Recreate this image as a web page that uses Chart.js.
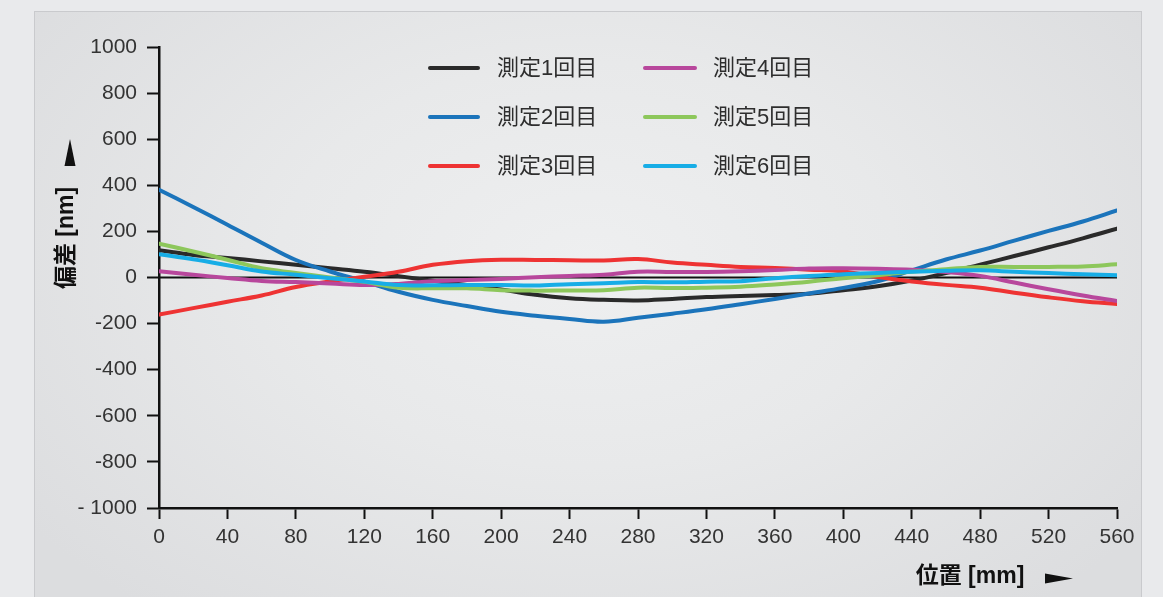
<!DOCTYPE html>
<html>
<head>
<meta charset="utf-8">
<script src="https://cdn.jsdelivr.net/npm/chart.js@4.4.1/dist/chart.umd.min.js"></script>
<style>
  html, body { margin: 0; padding: 0; width: 1163px; height: 597px; overflow: hidden; background: #e9eaec; }
  #panel {
    position: absolute; left: 34px; top: 11px; width: 1106px; height: 600px;
    border: 1px solid #c9cacd;
    background: radial-gradient(ellipse 62% 75% at 50% 42%, #eeeff0 0%, #e8e9ea 45%, #dcdddf 100%);
  }
  #wrap { position: absolute; left: 0; top: 0; width: 1163px; height: 597px; }
</style>
</head>
<body>
<div id="panel"></div>
<div id="wrap"><canvas id="c" width="1163" height="597"></canvas></div>
<script>
// Measurement positions along the axis [mm]
const positions = [0, 20, 40, 60, 80, 100, 120, 140, 160, 180, 200, 220, 240, 260, 280,
                   300, 320, 340, 360, 380, 400, 420, 440, 460, 480, 500, 520, 540, 560];

// Deviation per run [nm]
const run1 = [118, 98, 85, 70, 55, 40, 25, 6, -14, -33, -52, -75, -90, -97, -100,
              -93, -85, -80, -76, -70, -55, -38, -13, 19, 56, 93, 131, 170, 212];
const run2 = [381, 306, 229, 151, 76, 26, -17, -62, -97, -124, -149, -166, -180, -192, -175,
              -157, -138, -116, -93, -69, -45, -16, 31, 78, 117, 160, 202, 243, 291];
const run3 = [-161, -133, -105, -78, -41, -17, 3, 25, 55, 71, 77, 76, 75, 74, 80,
              65, 55, 46, 41, 34, 26, 2, -17, -32, -44, -66, -86, -103, -115];
const run4 = [27, 12, -2, -15, -20, -26, -33, -28, -16, -11, -6, 1, 7, 12, 25,
              24, 24, 27, 32, 39, 40, 38, 34, 24, 7, -22, -51, -78, -102];
const run5 = [147, 113, 77, 40, 20, 0, -19, -44, -47, -47, -55, -57, -56, -55, -44,
              -46, -44, -40, -30, -18, -3, 10, 25, 36, 46, 46, 46, 48, 57];
const run6 = [101, 79, 53, 26, 12, -3, -17, -33, -34, -33, -33, -35, -29, -25, -20,
              -21, -18, -16, -3, 7, 14, 20, 25, 29, 31, 25, 19, 14, 10];

const seriesNames = ['測定1回目', '測定2回目', '測定3回目', '測定4回目', '測定5回目', '測定6回目'];
const seriesColors = ['#2a2a2a', '#1b74bb', '#ee3333', '#b8479c', '#8dc75b', '#17ade6'];
const seriesValues = [run1, run2, run3, run4, run5, run6];

// Axis tick values
const xTicks = [0, 40, 80, 120, 160, 200, 240, 280, 320, 360, 400, 440, 480, 520, 560];
const yTicks = [-1000, -800, -600, -400, -200, 0, 200, 400, 600, 800, 1000];

const FONT = '"Liberation Sans", "Noto Sans CJK JP", sans-serif';

const datasets = seriesValues.map((vals, i) => ({
  label: seriesNames[i],
  data: vals.map((v, k) => ({ x: positions[k], y: v })),
  borderColor: seriesColors[i],
  backgroundColor: seriesColors[i],
  order: -i
}));

// Legend in two columns, three rows
const legendGrid = {
  id: 'legendGrid',
  afterDraw(chart) {
    const ctx = chart.ctx;
    const cols = [{ x0: 430, x1: 478, tx: 497 }, { x0: 645, x1: 695, tx: 713 }];
    const rows = [68, 117, 166];
    ctx.save();
    ctx.font = '22px ' + FONT;
    ctx.textBaseline = 'middle';
    ctx.textAlign = 'left';
    chart.data.datasets.forEach((ds, i) => {
      const c = cols[Math.floor(i / 3)];
      const y = rows[i % 3];
      ctx.strokeStyle = ds.borderColor;
      ctx.lineWidth = 4;
      ctx.lineCap = 'round';
      ctx.beginPath();
      ctx.moveTo(c.x0, y);
      ctx.lineTo(c.x1, y);
      ctx.stroke();
      ctx.fillStyle = '#2e2e2e';
      ctx.fillText(ds.label, c.tx, y + 1);
    });
    ctx.restore();
  }
};

// Zero reference line across the plot
const zeroLine = {
  id: 'zeroLine',
  beforeDatasetsDraw(chart) {
    const { ctx, chartArea, scales } = chart;
    const y = scales.y.getPixelForValue(0);
    ctx.save();
    ctx.strokeStyle = '#111';
    ctx.lineWidth = 1.8;
    ctx.beginPath();
    ctx.moveTo(chartArea.left, y);
    ctx.lineTo(chartArea.right, y);
    ctx.stroke();
    ctx.restore();
  }
};

// Axis titles with direction arrows
const axisTitles = {
  id: 'axisTitles',
  afterDraw(chart) {
    const ctx = chart.ctx;
    ctx.save();
    ctx.fillStyle = '#111';
    ctx.font = 'bold 23px ' + FONT;
    ctx.textAlign = 'center';
    ctx.textBaseline = 'middle';
    ctx.fillText('位置 [mm]', 970, 577);
    ctx.beginPath();
    ctx.moveTo(1045, 573.5);
    ctx.lineTo(1073, 578.5);
    ctx.lineTo(1045, 583.5);
    ctx.closePath();
    ctx.fill();

    ctx.save();
    ctx.translate(67, 238);
    ctx.rotate(-Math.PI / 2);
    ctx.fillText('偏差 [nm]', 0, 0);
    ctx.restore();
    ctx.beginPath();
    ctx.moveTo(64.5, 166);
    ctx.lineTo(70, 139);
    ctx.lineTo(75.5, 166);
    ctx.closePath();
    ctx.fill();
    ctx.restore();
  }
};

new Chart(document.getElementById('c'), {
  type: 'line',
  data: { datasets },
  plugins: [zeroLine, legendGrid, axisTitles],
  options: {
    responsive: false,
    animation: false,
    devicePixelRatio: 1,
    layout: { padding: { left: 0, right: 46, top: 47, bottom: 0 } },
    plugins: { legend: { display: false }, tooltip: { enabled: false } },
    elements: {
      point: { radius: 0 },
      line: { borderWidth: 4, tension: 0.4, borderCapStyle: 'round', borderJoinStyle: 'round' }
    },
    scales: {
      x: {
        type: 'linear',
        min: xTicks[0],
        max: xTicks[xTicks.length - 1],
        afterBuildTicks(s) { s.ticks = xTicks.map(v => ({ value: v })); },
        afterFit(s) { s.height = 89; },
        ticks: { color: '#333', font: { family: FONT, size: 21 }, padding: 6, maxRotation: 0, autoSkip: false },
        grid: { drawOnChartArea: false, drawTicks: true, tickLength: 11, tickColor: '#111', tickWidth: 2 },
        border: { display: true, color: '#111', width: 2.5 }
      },
      y: {
        type: 'linear',
        min: yTicks[0],
        max: yTicks[yTicks.length - 1],
        afterBuildTicks(s) { s.ticks = yTicks.map(v => ({ value: v })); },
        afterFit(s) { s.width = 159; },
        ticks: {
          color: '#333', font: { family: FONT, size: 21 }, padding: 10, autoSkip: false,
          callback: v => (v === -1000 ? '- 1000' : String(v))
        },
        grid: { drawOnChartArea: false, drawTicks: true, tickLength: 12, tickColor: '#111', tickWidth: 2 },
        border: { display: true, color: '#111', width: 2.5 }
      }
    }
  }
});
</script>
</body>
</html>
